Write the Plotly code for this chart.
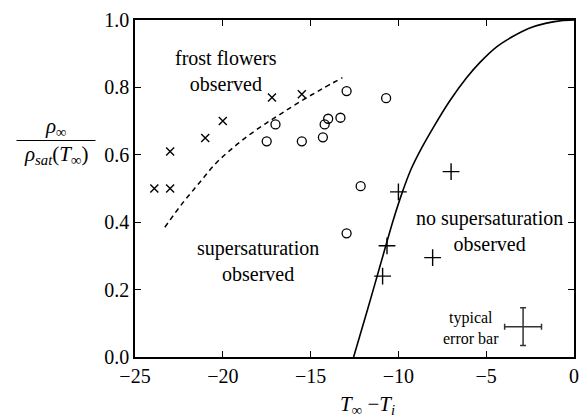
import plotly.graph_objects as go

# crosses: frost flowers observed
ff_x = [-23.9, -23.0, -23.0, -21.0, -20.0, -17.2, -15.5]
ff_y = [0.50, 0.50, 0.61, 0.65, 0.70, 0.77, 0.78]

# circles: supersaturation observed
ss_x = [-17.5, -17.0, -15.5, -14.3, -14.2, -14.0, -13.3, -12.95, -10.7, -12.15, -12.95]
ss_y = [0.64, 0.69, 0.64, 0.652, 0.69, 0.707, 0.71, 0.789, 0.768, 0.507, 0.367]

# plus: no supersaturation observed
ns_x = [-10.0, -7.0, -10.65, -10.9, -8.05]
ns_y = [0.49, 0.55, 0.33, 0.24, 0.295]

# dashed boundary
dash_x = [-23.3, -22.27, -21.33, -20.39, -19.46, -18.52, -17.58, -16.65, -15.53, -14.4, -13.19]
dash_y = [0.385, 0.458, 0.517, 0.575, 0.619, 0.658, 0.692, 0.723, 0.760, 0.794, 0.829]

# solid saturation curve
sol_x = [-12.55, -11.76, -11.03, -10.30, -9.79, -9.28, -8.72, -7.99, -7.09, -6.13, -5.34, -4.44, -3.49, -2.59, -1.63, -0.73, 0.0]
sol_y = [0.0, 0.140, 0.273, 0.405, 0.487, 0.557, 0.616, 0.683, 0.759, 0.828, 0.875, 0.919, 0.951, 0.975, 0.990, 0.998, 1.0]

# typical error bar
eb_x = [-2.9]
eb_y = [0.09]
eb_dx = [1.05]
eb_dy = [0.056]

x_ticks = [-25, -20, -15, -10, -5, 0]
y_ticks = [0.0, 0.2, 0.4, 0.6, 0.8, 1.0]

FONT = "Liberation Serif, Times New Roman, serif"

fig = go.Figure()
fig.add_trace(go.Scatter(x=sol_x, y=sol_y, mode="lines",
                         line=dict(color="black", width=1.6, shape="spline", smoothing=0.8), showlegend=False))
fig.add_trace(go.Scatter(x=dash_x, y=dash_y, mode="lines",
                         line=dict(color="black", width=1.5, dash="5px,4px", shape="spline"), showlegend=False))
fig.add_trace(go.Scatter(x=ff_x, y=ff_y, mode="markers",
                         marker=dict(symbol="x-thin-open", size=8, color="black",
                                     line=dict(color="black", width=1.4)),
                         showlegend=False))
fig.add_trace(go.Scatter(x=ss_x, y=ss_y, mode="markers",
                         marker=dict(symbol="circle-open", size=9, color="black",
                                     line=dict(color="black", width=1.3)),
                         showlegend=False))
fig.add_trace(go.Scatter(x=ns_x, y=ns_y, mode="markers",
                         marker=dict(symbol="cross-thin-open", size=12, color="black",
                                     line=dict(color="black", width=1.4)),
                         showlegend=False))
fig.add_trace(go.Scatter(x=eb_x, y=eb_y, mode="markers",
                         marker=dict(size=1, color="rgba(0,0,0,0)"),
                         error_x=dict(type="data", array=eb_dx, color="#333", thickness=1.5, width=3),
                         error_y=dict(type="data", array=eb_dy, color="#333", thickness=1.5, width=3),
                         showlegend=False))

ann = dict(font=dict(family=FONT, size=20, color="black"), showarrow=False)
fig.add_annotation(x=-19.8, y=0.85, text="frost flowers<br>observed", **ann)
fig.add_annotation(x=-18.0, y=0.286, text="supersaturation<br>observed", **ann)
fig.add_annotation(x=-4.8, y=0.373, text="no supersaturation<br>observed", **ann)
fig.add_annotation(x=-5.85, y=0.085, text="typical<br>error bar",
                   font=dict(family=FONT, size=16, color="black"), showarrow=False)

# axis titles
fig.add_annotation(xref="paper", yref="paper", x=0.53, y=-0.141, xanchor="center", yanchor="middle",
                   text="<i>T</i><sub>∞</sub> −<i>T<sub>i</sub></i>",
                   font=dict(family=FONT, size=21, color="black"), showarrow=False)
fig.add_annotation(xref="paper", yref="paper", x=-0.18, y=0.682, xanchor="center", yanchor="middle",
                   text="<i>ρ</i><sub>∞</sub>",
                   font=dict(family=FONT, size=21, color="black"), showarrow=False)
fig.add_annotation(xref="paper", yref="paper", x=-0.18, y=0.598, xanchor="center", yanchor="middle",
                   text="<i>ρ<sub>sat</sub></i>(<i>T</i><sub>∞</sub>)",
                   font=dict(family=FONT, size=21, color="black"), showarrow=False)
fig.add_shape(type="line", xref="paper", yref="paper", x0=-0.270, x1=-0.090, y0=0.6425, y1=0.6425,
              line=dict(color="black", width=1.2))

axis_common = dict(showline=True, linecolor="black", linewidth=1.5, mirror="ticks",
                   ticks="inside", ticklen=6, tickwidth=1.3, tickcolor="black",
                   showgrid=False, zeroline=False,
                   tickfont=dict(family=FONT, size=20, color="black"))

fig.update_xaxes(range=[-25, 0], tickvals=x_ticks, ticktext=["−25", "−20", "−15", "−10", "−5", "0"],
                 **axis_common)
fig.update_yaxes(range=[0, 1], tickvals=y_ticks, ticktext=[f"{v:.1f}" for v in y_ticks],
                 **axis_common)

fig.update_layout(width=588, height=420, margin=dict(l=135, r=9, t=14, b=63, pad=0),
                  plot_bgcolor="white", paper_bgcolor="white",
                  font=dict(family=FONT, color="black"))

fig.write_html("out.html", config={"displayModeBar": False},
               post_script="document.body.style.margin='0';document.body.style.overflow='hidden';")
